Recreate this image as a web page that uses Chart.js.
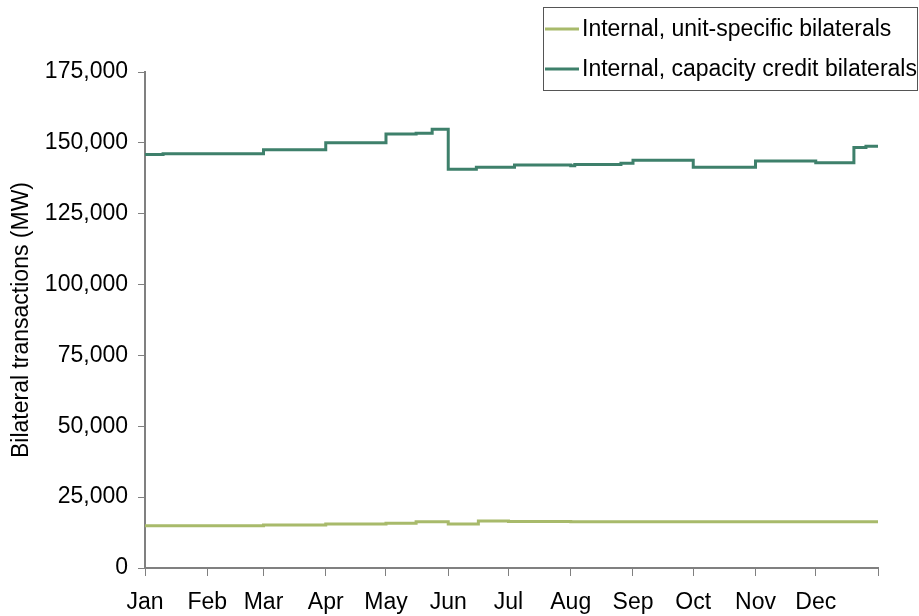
<!DOCTYPE html>
<html>
<head>
<meta charset="utf-8">
<script src="https://cdn.jsdelivr.net/npm/chart.js@4/dist/chart.umd.min.js"></script>
<style>
  html, body { margin: 0; padding: 0; background: #fff; }
  #wrap { width: 919px; height: 616px; position: relative; }
</style>
</head>
<body>
<div id="wrap"><canvas id="bilateralChart"></canvas></div>
<script>
// month tick positions (day of year) and their labels
var monthDays = [0, 31, 59, 90, 120, 151, 181, 212, 243, 273, 304, 334, 365];
var monthLabels = ['Jan', 'Feb', 'Mar', 'Apr', 'May', 'Jun', 'Jul', 'Aug', 'Sep', 'Oct', 'Nov', 'Dec', ''];

// y axis ticks
var yTicks = [0, 25000, 50000, 75000, 100000, 125000, 150000, 175000];

// unit-specific bilaterals: day where the level changes, and the level (MW)
var unitDays   = [0, 59, 90, 120, 135, 151, 166, 181, 212, 365];
var unitValues = [14900, 15200, 15500, 15800, 16300, 15500, 16600, 16400, 16300, 16200];

// capacity credit bilaterals
var creditDays   = [0, 9, 59, 90, 120, 135, 143, 151, 165, 184, 212, 214, 237, 243, 273, 304, 334, 353, 359, 365];
var creditValues = [145900, 146200, 147600, 150000, 153100, 153400, 154800, 140700, 141400, 142200, 141900, 142400, 142800, 143900, 141400, 143600, 143000, 148400, 148800, 148800];

function toPoints(days, values) {
    return days.map(function (d, i) {
        return { x: d, y: values[i] };
    });
}

var fontFamily = '"Liberation Sans", Arial, sans-serif';
var fontSize = 23;
var axisGrey = '#808080';

// legend drawn as a boxed list at the top right
var boxLegend = {
    id: 'boxLegend',
    afterDraw: function (chart) {
        var ctx = chart.ctx;
        ctx.save();
        ctx.strokeStyle = '#555';
        ctx.lineWidth = 1;
        ctx.strokeRect(543.5, 7.5, 374, 83);
        ctx.font = fontSize + 'px ' + fontFamily;
        ctx.textBaseline = 'middle';
        ctx.fillStyle = '#000';
        var rows = [29, 69];
        chart.data.datasets.forEach(function (ds, i) {
            ctx.strokeStyle = ds.borderColor;
            ctx.lineWidth = 3;
            ctx.beginPath();
            ctx.moveTo(545, rows[i]);
            ctx.lineTo(579, rows[i]);
            ctx.stroke();
            ctx.fillText(ds.label, 582, rows[i] + 1);
        });
        ctx.restore();
    }
};

var ctx = document.getElementById('bilateralChart').getContext('2d');
var config = {
    type: 'line',
    data: {
        datasets: [{
            label: 'Internal, unit-specific bilaterals',
            data: toPoints(unitDays, unitValues),
            borderColor: '#a8ba6b',
            backgroundColor: '#a8ba6b',
            borderWidth: 3,
            stepped: 'before',
            pointRadius: 0,
            fill: false
        }, {
            label: 'Internal, capacity credit bilaterals',
            data: toPoints(creditDays, creditValues),
            borderColor: '#3e806b',
            backgroundColor: '#3e806b',
            borderWidth: 3,
            stepped: 'before',
            pointRadius: 0,
            fill: false
        }]
    },
    options: {
        responsive: true,
        maintainAspectRatio: false,
        animation: false,
        layout: {
            padding: { top: 72, right: 41, bottom: 2, left: 0 }
        },
        plugins: {
            legend: { display: false },
            tooltip: { enabled: false }
        },
        scales: {
            x: {
                type: 'linear',
                min: 0,
                max: 365,
                afterBuildTicks: function (scale) {
                    scale.ticks = monthDays.map(function (d) { return { value: d }; });
                },
                afterFit: function (scale) {
                    scale.height = 46;
                },
                ticks: {
                    autoSkip: false,
                    maxRotation: 0,
                    padding: 13,
                    color: '#000',
                    font: { family: fontFamily, size: fontSize },
                    callback: function (value) {
                        return monthLabels[monthDays.indexOf(value)];
                    }
                },
                grid: { drawOnChartArea: false, tickLength: 8, color: axisGrey, lineWidth: 1 },
                border: { color: axisGrey, width: 2 }
            },
            y: {
                min: 0,
                max: 175000,
                afterBuildTicks: function (scale) {
                    scale.ticks = yTicks.map(function (v) { return { value: v }; });
                },
                afterFit: function (scale) {
                    scale.width = 145;
                },
                ticks: {
                    padding: 10,
                    color: '#000',
                    font: { family: fontFamily, size: fontSize },
                    callback: function (value) {
                        return value.toLocaleString('en-US');
                    }
                },
                title: {
                    display: true,
                    text: 'Bilateral transactions (MW)',
                    color: '#000',
                    font: { family: fontFamily, size: fontSize },
                    padding: { top: 8, bottom: 0 }
                },
                grid: { drawOnChartArea: false, tickLength: 7, color: axisGrey, lineWidth: 1 },
                border: { color: axisGrey, width: 2 }
            }
        }
    },
    plugins: [boxLegend]
};
window.bilateralChart = new Chart(ctx, config);
</script>
</body>
</html>
